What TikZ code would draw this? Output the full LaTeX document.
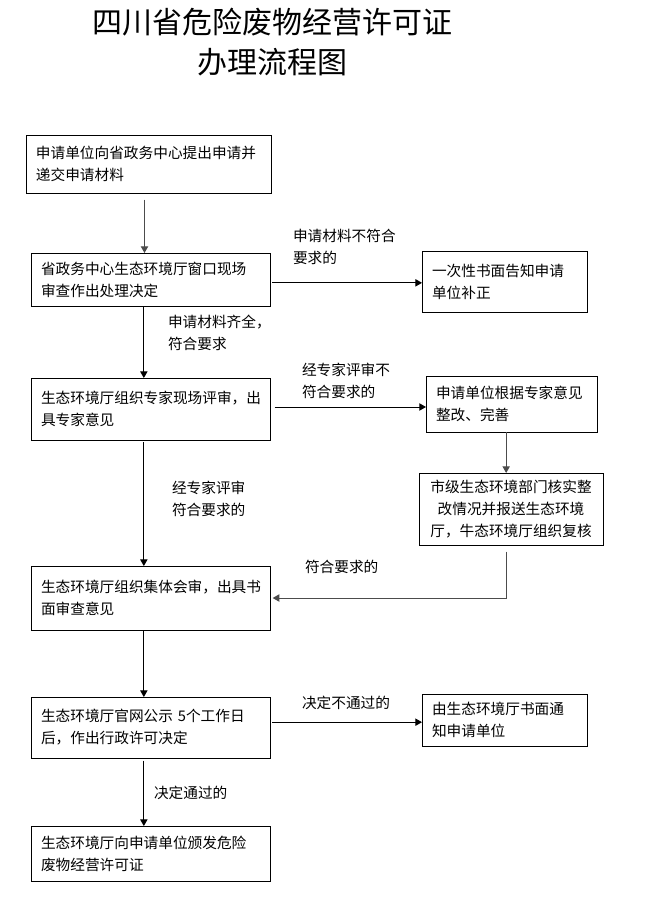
\documentclass[tikz,border=0pt]{standalone}
\usepackage{fontspec}
\newfontfamily\cjk{Noto Sans CJK SC}
\usetikzlibrary{arrows.meta}
\definecolor{arrowgray}{gray}{0.3}

\begin{document}
\begin{tikzpicture}[x=0.75pt,y=-0.75pt,inner sep=0pt,outer sep=0pt,line width=0.75pt,
>={Triangle[length=5pt,width=5.5pt]},
stepbox/.style={draw,rectangle,inner xsep=7.5pt,inner ysep=0pt,text width=#1,align=left,font=\cjk\fontsize{11}{16.5}\selectfont},
note/.style={align=left,anchor=west,font=\cjk\fontsize{11}{16.5}\selectfont}]

\useasboundingbox (0,0) rectangle (648,899);

\draw (272,42) node[font=\cjk\fontsize{22.5}{30}\selectfont,align=center] (title) {四川省危险废物经营许可证\\办理流程图};

% left column
\draw (148.5,164) node[stepbox=168.75pt,minimum height=43.5pt] (apply) {申请单位向省政务中心提出申请并\\递交申请材料};
\draw (150.5,279.5) node[stepbox=164.25pt,minimum height=39.75pt] (window) {省政务中心生态环境厅窗口现场\\审查作出处理决定};
\draw (150.5,409) node[stepbox=164.25pt,minimum height=46.5pt] (expert) {生态环境厅组织专家现场评审，出\\具专家意见};
\draw (150.5,598) node[stepbox=164.25pt,minimum height=48pt] (meeting) {生态环境厅组织集体会审，出具书\\面审查意见};
\draw (150.5,727.5) node[stepbox=164.25pt,minimum height=45.75pt] (publish) {生态环境厅官网公示 5个工作日\\后，作出行政许可决定};
\draw (150.5,853.5) node[stepbox=164.25pt,minimum height=41.25pt] (issue) {生态环境厅向申请单位颁发危险\\废物经营许可证};

% right column
\draw (504.5,281.5) node[stepbox=108.75pt,minimum height=45.75pt] (supply) {一次性书面告知申请\\单位补正};
\draw (511.5,404) node[stepbox=113.25pt,minimum height=42pt] (rectify) {申请单位根据专家意见\\整改、完善};
\draw (511,509) node[stepbox=123pt,minimum height=54pt,align=center] (recheck) {市级生态环境部门核实整\\改情况并报送生态环境\\厅，牛态环境厅组织复核};
\draw (504.5,720) node[stepbox=108.75pt,minimum height=39pt] (refuse) {由生态环境厅书面通\\知申请单位};

% labels
\draw (293,246.5) node[note] (nosupply) {申请材料不符合\\要求的};
\draw (168,332.5) node[note] (okwindow) {申请材料齐全，\\符合要求};
\draw (302,381) node[note] (noexpert) {经专家评审不\\符合要求的};
\draw (172,499) node[note] (okexpert) {经专家评审\\符合要求的};
\draw (305,567) node[note] (okrecheck) {符合要求的};
\draw (302,703) node[note] (nopublish) {决定不通过的};
\draw (154,793) node[note] (okpublish) {决定通过的};

% connectors
\draw[->,arrowgray,shorten <=5pt] ([xshift=-3pt]apply.south) -- ([xshift=-3pt]apply.south |- window.north);
\draw[->] ([xshift=-5pt]window.south) -- ([xshift=-5pt]window.south |- expert.north);
\draw[->,shorten <=1.5pt] ([xshift=-5pt]expert.south) -- ([xshift=-5pt]expert.south |- meeting.north);
\draw[->] ([xshift=-5pt]meeting.south) -- ([xshift=-5pt]meeting.south |- publish.north);
\draw[->,shorten <=2pt] ([xshift=-5pt]publish.south) -- ([xshift=-5pt]publish.south |- issue.north);

\draw[->,shorten <=1.5pt] ([yshift=-2.5pt]window.east) -- ([yshift=-2.5pt]window.east -| supply.west);
\draw[->,shorten <=3.5pt] ([yshift=1.5pt]expert.east) -- ([yshift=1.5pt]expert.east -| rectify.west);
\draw[->,arrowgray] ([xshift=-4pt]rectify.south) -- ([xshift=-4pt]rectify.south |- recheck.north);
\draw[->,arrowgray,shorten <=5pt] ([xshift=-3.75pt]recheck.south) |- ([xshift=2pt]meeting.east);
\draw[->,shorten <=1.5pt] ([yshift=4pt]publish.east) -- ([yshift=4pt]publish.east -| refuse.west);
\end{tikzpicture}
\end{document}
